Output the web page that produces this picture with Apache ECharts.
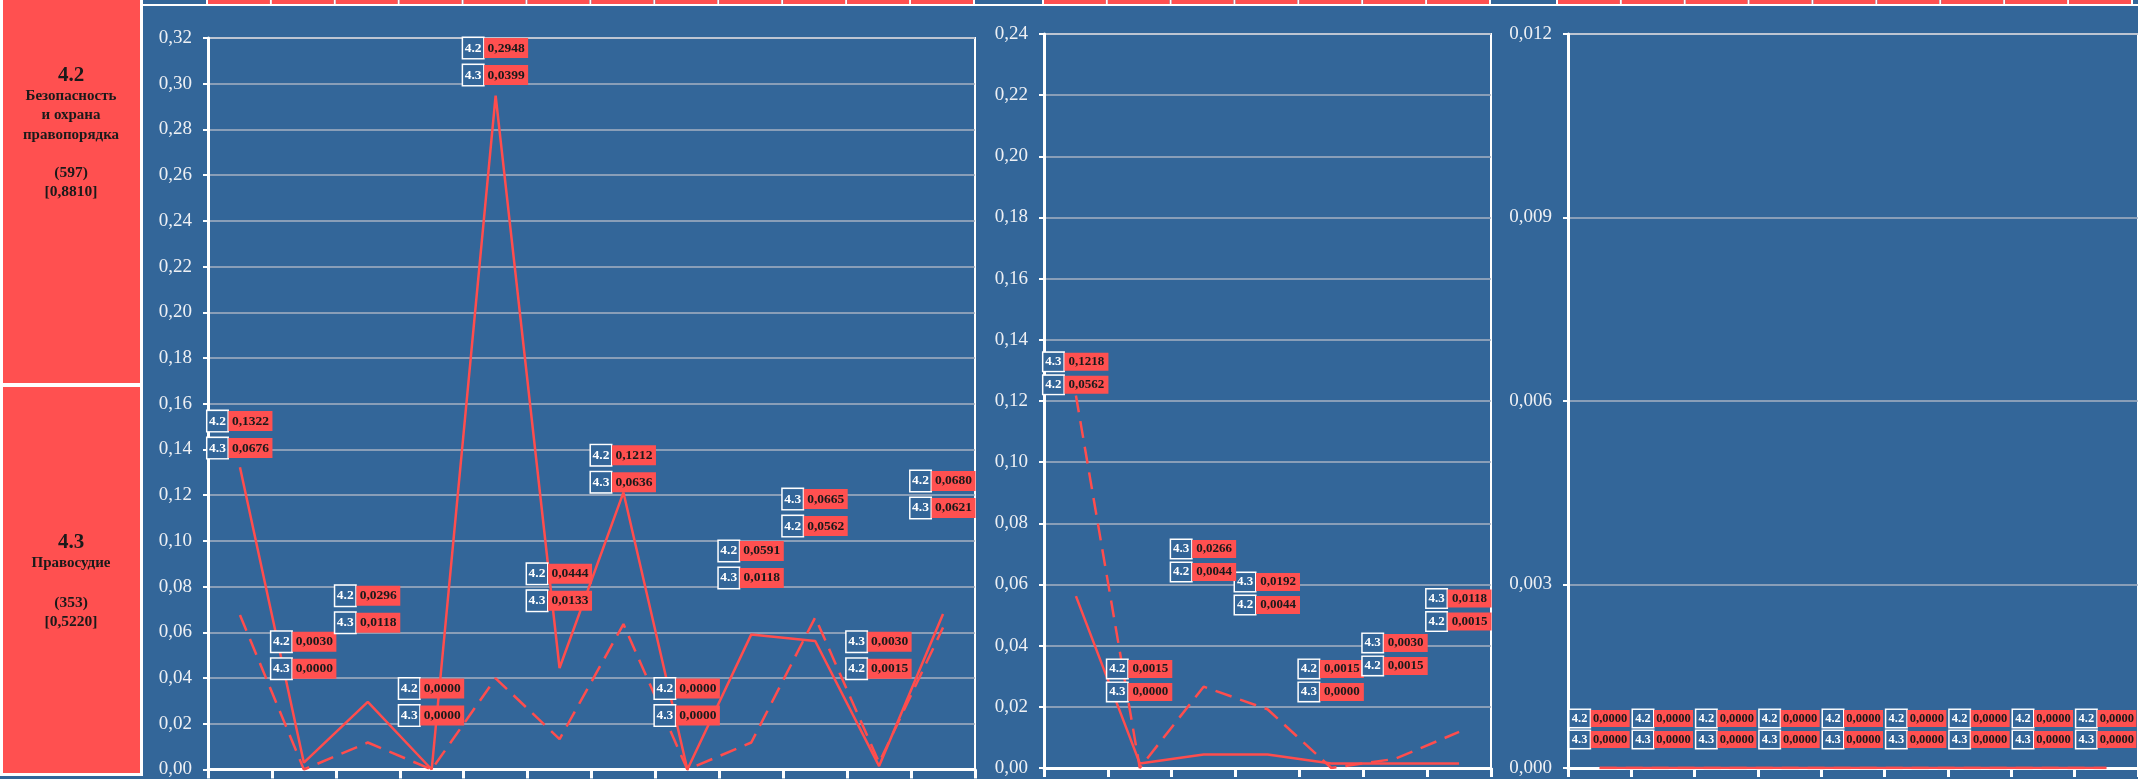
<!DOCTYPE html>
<html>
<head>
<meta charset="utf-8">
<script src="https://cdn.jsdelivr.net/npm/echarts@6/dist/echarts.min.js"></script>
<style>
html,body{margin:0;padding:0;background:#336699;}
#c{width:2138px;height:779px;}
</style>
</head>
<body>
<div id="c"></div>
<script>
// ---------- DATA ----------
const cats1 = ['1','2','3','4','5','6','7','8','9','10','11','12'];
const cats2 = ['1','2','3','4','5','6','7'];
const cats3 = ['1','2','3','4','5','6','7','8','9'];

const chart1_42 = [0.1322, 0.0030, 0.0296, 0.0000, 0.2948, 0.0444, 0.1212, 0.0000, 0.0591, 0.0562, 0.0015, 0.0680];
const chart1_43 = [0.0676, 0.0000, 0.0118, 0.0000, 0.0399, 0.0133, 0.0636, 0.0000, 0.0118, 0.0665, 0.0030, 0.0621];

const chart2_42 = [0.0562, 0.0015, 0.0044, 0.0044, 0.0015, 0.0015, 0.0015];
const chart2_43 = [0.1218, 0.0000, 0.0266, 0.0192, 0.0000, 0.0030, 0.0118];

const chart3_42 = [0, 0, 0, 0, 0, 0, 0, 0, 0];
const chart3_43 = [0, 0, 0, 0, 0, 0, 0, 0, 0];

const seriesNames = ['4.2', '4.3'];

const yTicks1 = {max: 0.32, step: 0.02, dec: 2};
const yTicks2 = {max: 0.24, step: 0.02, dec: 2};
const yTicks3 = {max: 0.012, step: 0.003, dec: 3};

const panel1 = {code: '4.2', name: ['Безопасность', 'и охрана', 'правопорядка'], count: '(597)', index: '[0,8810]'};
const panel2 = {code: '4.3', name: ['Правосудие'], count: '(353)', index: '[0,5220]'};

// annotation anchors (value level of the label boxes)
const labelAt1 = [0.1524, 0.0559, 0.0760, 0.0354, 0.3156, 0.0856, 0.1375, 0.0354, 0.0956, 0.1183, 0.0559, 0.1262];
const labelAt2 = [0.1328, 0.0324, 0.0716, 0.0608, 0.0324, 0.0409, 0.0554];
const labelAt3 = [0.00081, 0.00081, 0.00081, 0.00081, 0.00081, 0.00081, 0.00081, 0.00081, 0.00081];

// ---------- LAYOUT / STYLE ----------
const BLUE = '#336699', RED = '#ff5050', LINE = '#ff4d4d', WHITE = '#ffffff';
const SERIF = '"Liberation Serif","Times New Roman",serif';
const grids = [
  {left: 208, top: 38, width: 767, height: 733},
  {left: 1044, top: 34, width: 447, height: 734},
  {left: 1568, top: 34, width: 575, height: 734}
];
const labelCfg = [
  {h: 20, kw: 20, vw: 44, fs: 13.5, gap: 27},
  {h: 18, kw: 20, vw: 44, fs: 13, gap: 23},
  {h: 17, kw: 20, vw: 39, fs: 12.5, gap: 21}
];

const fmt4 = v => v.toFixed(4).replace('.', ',');

const charts = [
  {cats: cats1, a: chart1_42, b: chart1_43, lab: labelAt1, y: yTicks1},
  {cats: cats2, a: chart2_42, b: chart2_43, lab: labelAt2, y: yTicks2},
  {cats: cats3, a: chart3_42, b: chart3_43, lab: labelAt3, y: yTicks3}
];

const option = {
  animation: false,
  backgroundColor: BLUE,
  grid: [], xAxis: [], yAxis: [], series: [], graphic: []
};

charts.forEach((c, i) => {
  const g = grids[i];
  option.grid.push(Object.assign({show: true, borderColor: WHITE, borderWidth: 2, backgroundColor: 'transparent', containLabel: false}, g));
  option.xAxis.push({
    type: 'category', gridIndex: i, data: c.cats, boundaryGap: true,
    axisLine: {lineStyle: {color: WHITE, width: 3}},
    axisTick: {show: true, interval: 0, length: 9, lineStyle: {color: WHITE, width: 3}},
    axisLabel: {show: false}, splitLine: {show: false}
  });
  option.yAxis.push({
    type: 'value', gridIndex: i, min: 0, max: c.y.max, interval: c.y.step,
    axisLine: {show: true, lineStyle: {color: WHITE, width: 3}},
    axisTick: {show: true, length: 5, lineStyle: {color: WHITE, width: 2}},
    axisLabel: {color: '#eef0f4', fontFamily: SERIF, fontSize: 19, margin: 16,
      formatter: v => v.toFixed(c.y.dec).replace('.', ',')},
    splitLine: {show: true, lineStyle: {color: '#a7b2c3', width: 1.5}}
  });
  option.series.push({
    type: 'line', name: seriesNames[0], xAxisIndex: i, yAxisIndex: i, data: c.a,
    symbol: 'none', lineStyle: {color: LINE, width: 2.5, type: 'solid'}, z: 3
  });
  option.series.push({
    type: 'line', name: seriesNames[1], xAxisIndex: i, yAxisIndex: i, data: c.b,
    symbol: 'none', lineStyle: {color: LINE, width: 2.5, type: [17, 9]}, z: 3
  });
  // label rows: larger value on top (ties: 4.2 first)
  const lc = labelCfg[i];
  const rich = {
    k: {width: lc.kw, height: lc.h, align: 'center', backgroundColor: BLUE, borderColor: WHITE, borderWidth: 1.5,
        color: WHITE, fontWeight: 'bold', fontFamily: SERIF, fontSize: lc.fs},
    s: {width: 1, height: lc.h},
    v: {width: lc.vw, height: lc.h, align: 'center', backgroundColor: RED, color: '#1a1a1a',
        fontWeight: 'bold', fontFamily: SERIF, fontSize: lc.fs}
  };
  [0, 1].forEach(row => {
    const data = c.cats.map((cat, j) => {
      const first = c.a[j] >= c.b[j] ? 0 : 1;
      const which = row === 0 ? first : 1 - first;
      const val = which === 0 ? c.a[j] : c.b[j];
      return {value: [j, c.lab[j]], name: seriesNames[which],
        label: {formatter: '{k|' + seriesNames[which] + '}{s|}{v|' + fmt4(val) + '}'}};
    });
    option.series.push({
      type: 'scatter', xAxisIndex: i, yAxisIndex: i, data: data,
      symbolSize: 1, itemStyle: {color: 'rgba(0,0,0,0)', opacity: 1}, silent: true, z: 5,
      label: {show: true, position: 'inside', opacity: 1, offset: [0, row * lc.gap], rich: rich}
    });
  });
});

// ---------- decorations: left panels and cropped table strips ----------
const G = option.graphic;
G.push({type: 'rect', shape: {x: 0, y: 0, width: 143, height: 776}, style: {fill: WHITE}, z: 0});
G.push({type: 'rect', shape: {x: 3, y: 0, width: 137, height: 383}, style: {fill: RED}, z: 1});
G.push({type: 'rect', shape: {x: 3, y: 387, width: 137, height: 386}, style: {fill: RED}, z: 1});

function panelText(p, yCode, yName, yCount, lh) {
  const t = (txt, y, fs) => G.push({type: 'text', x: 71, y: y, z: 2,
    style: {text: txt, fill: '#1a1a1a', font: 'bold ' + fs + 'px ' + SERIF, textAlign: 'center', textVerticalAlign: 'middle'}});
  t(p.code, yCode, 21);
  p.name.forEach((n, k) => t(n, yName + k * lh, 15));
  t(p.count, yCount, 15.5);
  t(p.index, yCount + 19, 15.5);
}
panelText(panel1, 76, 96, 173, 19.5);
panelText(panel2, 543, 563, 603, 19.5);

// top strip (edge of the table above)
G.push({type: 'rect', shape: {x: 143, y: 4, width: 1995, height: 2}, style: {fill: WHITE}, z: 1});
const stripShift = [0, 0, -10];
grids.forEach((g, i) => {
  const prevRight = i === 0 ? 143 : grids[i - 1].left + grids[i - 1].width + 4;
  const left = g.left + stripShift[i];
  G.push({type: 'rect', shape: {x: prevRight, y: 0, width: left - 2 - prevRight, height: 4}, style: {fill: BLUE}, z: 1});
  G.push({type: 'rect', shape: {x: left - 2, y: 0, width: 2, height: 4}, style: {fill: WHITE}, z: 1});
  const n = charts[i].cats.length;
  const w = g.width / n;
  for (let j = 0; j < n; j++) {
    G.push({type: 'rect', shape: {x: left + j * w, y: 0, width: w - 2, height: 4}, style: {fill: RED}, z: 1});
    G.push({type: 'rect', shape: {x: left + (j + 1) * w - 2, y: 0, width: 2, height: 4}, style: {fill: WHITE}, z: 1});
  }
});

const chart = echarts.init(document.getElementById('c'), null, {renderer: 'canvas'});
chart.setOption(option);
</script>
</body>
</html>
